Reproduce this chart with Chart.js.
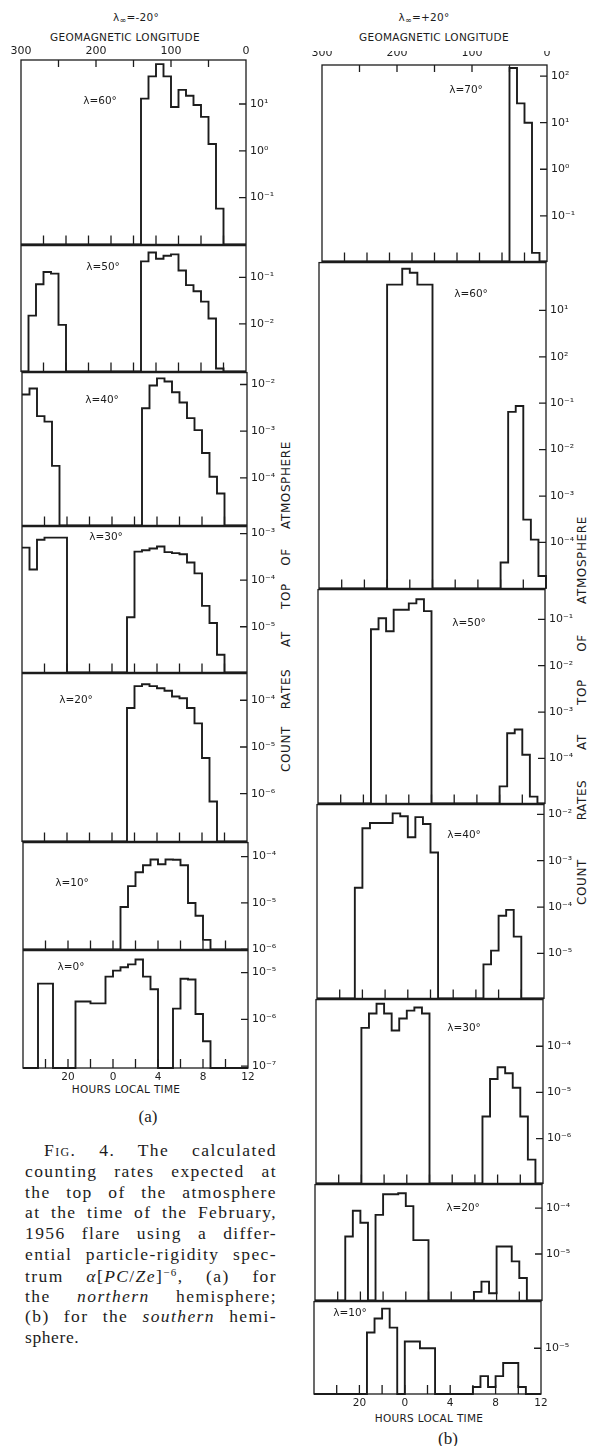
<!DOCTYPE html>
<html>
<head>
<meta charset="utf-8">
<script src="https://cdn.jsdelivr.net/npm/chart.js@4.4.1/dist/chart.umd.min.js"></script>
<style>
  html, body { margin: 0; padding: 0; background: #fff; }
  #page { position: relative; width: 590px; height: 1446px; overflow: hidden; color: #1c1c1c; font-family: 'DejaVu Sans', sans-serif; }
  canvas { position: absolute; }
  .t { position: absolute; white-space: nowrap; transform: translate(-50%, -50%); }
  .hdr { font-size: 10.5px; letter-spacing: 0.3px; }
  .hdr sub { font-size: 8px; vertical-align: -2px; }
  .lam { font-size: 10.5px; }
  .vt { position: absolute; white-space: nowrap; font-size: 12px; letter-spacing: 0.6px; transform: translate(-50%, -50%) rotate(-90deg); }
  .cap { position: absolute; left: 25px; width: 252px; font-family: 'Liberation Serif', serif; font-size: 17.5px; line-height: 1;
         white-space: nowrap; text-align: justify; text-align-last: justify; transform: translateY(-50%); }
  .cap sup { font-size: 11px; vertical-align: 6px; }
  .par { position: absolute; font-family: 'Liberation Serif', serif; font-size: 17px; transform: translate(-50%, -50%); }
</style>
</head>
<body>
<div id="page">
  <div class="t hdr" style="left:136px;top:18px">λ<sub>∞</sub>=-20°</div>
  <div class="t hdr" style="left:125px;top:37px">GEOMAGNETIC LONGITUDE</div>
  <div class="t hdr" style="left:424px;top:18px">λ<sub>∞</sub>=+20°</div>
  <div class="t hdr" style="left:434px;top:37px">GEOMAGNETIC LONGITUDE</div>

  <div class="t hdr" style="left:126px;top:1089px">HOURS LOCAL TIME</div>
  <div class="t hdr" style="left:429px;top:1418px">HOURS LOCAL TIME</div>
  <div class="par" style="left:148px;top:1117px">(a)</div>
  <div class="par" style="left:448px;top:1439px">(b)</div>

  <div class="vt" style="left:286px;top:749px">COUNT</div>
  <div class="vt" style="left:286px;top:689px">RATES</div>
  <div class="vt" style="left:286px;top:639px">AT</div>
  <div class="vt" style="left:286px;top:596px">TOP</div>
  <div class="vt" style="left:286px;top:557px">OF</div>
  <div class="vt" style="left:286px;top:485px">ATMOSPHERE</div>
  <div class="vt" style="left:582px;top:882px">COUNT</div>
  <div class="vt" style="left:582px;top:800px">RATES</div>
  <div class="vt" style="left:582px;top:742px">AT</div>
  <div class="vt" style="left:582px;top:692px">TOP</div>
  <div class="vt" style="left:582px;top:643px">OF</div>
  <div class="vt" style="left:582px;top:560px">ATMOSPHERE</div>

  <div class="cap fit" style="top:1151px;left:44px;width:233px"><span><span style="font-variant:small-caps">Fig.</span> 4. The calculated</span></div>
  <div class="cap fit" style="top:1172px"><span>counting rates expected at</span></div>
  <div class="cap fit" style="top:1193px"><span>the top of the atmosphere</span></div>
  <div class="cap fit" style="top:1213px"><span>at the time of the February,</span></div>
  <div class="cap fit" style="top:1234px"><span>1956 flare using a differ-</span></div>
  <div class="cap fit" style="top:1255px"><span>ential particle-rigidity spec-</span></div>
  <div class="cap fit" style="top:1276px"><span>trum <i>α</i>[<i>PC</i>/<i>Ze</i>]<sup>−6</sup>, (a) for</span></div>
  <div class="cap fit" style="top:1297px"><span>the <i>northern</i> hemisphere;</span></div>
  <div class="cap fit" style="top:1317px"><span>(b) for the <i>southern</i> hemi-</span></div>
  <div class="cap" style="top:1338px;text-align-last:left"><span style="letter-spacing:0.6px">sphere.</span></div>
</div>

<script>
const _ = null;

// left edge (geomagnetic longitude, deg) of each 10 deg bin
const binLon = [300, 290, 280, 270, 260, 250, 240, 230, 220, 210,
                200, 190, 180, 170, 160, 150, 140, 130, 120, 110,
                100,  90,  80,  70,  60,  50,  40,  30,  20,  10];

// (a) northern hemisphere, lambda_inf = -20 deg
const rateN60 = [_, _, _, _, _, _, _, _, _, _,
                 _, _, _, _, _, _, 1.3e1, 3.9e1, 7.1e1, 3.9e1,
                 8.6, 2.0e1, 1.5e1, 9.5, 5.3, 1.4, 5.8e-2, _, _, _];
const rateN50 = [_, 1.5e-2, 7.1e-2, 1.3e-1, 1.2e-1, 9.5e-3, _, _, _, _,
                 _, _, _, _, _, _, 2.2e-1, 3.4e-1, 2.5e-1, 2.9e-1,
                 3.1e-1, 1.4e-1, 6.8e-2, 5.0e-2, 3.0e-2, 1.3e-2, 1.1e-3, _, _, _];
const rateN40 = [6.1e-3, 8.2e-3, 2.1e-3, 1.6e-3, 1.8e-4, _, _, _, _, _,
                 _, _, _, _, _, _, 3.1e-3, 9.5e-3, 1.35e-2, 1.16e-2,
                 6.8e-3, 4.1e-3, 1.9e-3, 1.05e-3, 3.4e-4, 1.05e-4, 4.6e-5, _, _, _];
const rateN30 = [5.0e-4, 1.7e-4, 7.4e-4, 8.2e-4, 8.2e-4, 8.2e-4, _, _, _, _,
                 _, _, _, _, 1.6e-5, 4.1e-4, 4.4e-4, 4.8e-4, 5.3e-4, 4.0e-4,
                 3.8e-4, 3.6e-4, 2.4e-4, 1.4e-4, 2.8e-5, 1.2e-5, 2.5e-6, _, _, _];
const rateN20 = [_, _, _, _, _, _, _, _, _, _,
                 _, _, _, _, 6.8e-5, 2.0e-4, 2.2e-4, 2.0e-4, 1.8e-4, 1.6e-4,
                 1.2e-4, 1.1e-4, 6.8e-5, 3.2e-5, 5.8e-6, 6.8e-7, _, _, _, _];
const rateN10 = [_, _, _, _, _, _, _, _, _, _,
                 _, _, _, 8.2e-6, 2.3e-5, 4.6e-5, 6.5e-5, 8.6e-5, 6.8e-5, 8.6e-5,
                 8.5e-5, 6.5e-5, 1.0e-5, 5.3e-6, 1.6e-6, _, _, _, _, _];
const rateN0  = [_, _, 5.8e-6, 5.8e-6, _, _, _, 2.4e-6, 2.4e-6, 2.2e-6,
                 2.2e-6, 8.2e-6, 1.1e-5, 1.3e-5, 1.5e-5, 1.9e-5, 8.2e-6, 4.4e-6, _, _,
                 1.7e-6, 7.4e-6, 7.1e-6, 1.3e-6, 3.4e-7, _, _, _, _, _];

// (b) southern hemisphere, lambda_inf = +20 deg
const rateS70 = [_, _, _, _, _, _, _, _, _, _,
                 _, _, _, _, _, _, _, _, _, _,
                 _, _, _, _, _, 1.5e2, 2.6e1, 1.0e1, 1.6e-2, _];
const rateS60 = [_, _, _, _, _, _, _, _, _, 3.6e1,
                 3.6e1, 7.9e1, 6.5e1, 3.6e1, 3.6e1, _, _, _, _, _,
                 _, _, _, _, 3.7e-5, 6.5e-2, 8.7e-2, 3.1e-4, 1.15e-4, 1.9e-5];
const rateS50 = [_, _, _, _, _, _, _, 6.1e-2, 1.05e-1, 5.5e-2,
                 1.6e-1, 1.6e-1, 2.2e-1, 2.7e-1, 1.5e-1, _, _, _, _, _,
                 _, _, _, _, 2.5e-5, 3.5e-4, 4.2e-4, 1.2e-4, 1.5e-5, _];
const rateS40 = [_, _, _, _, _, 2.6e-4, 5.0e-3, 6.5e-3, 6.5e-3, 6.5e-3,
                 1.05e-2, 9.1e-3, 3.2e-3, 8.7e-3, 6.2e-3, 1.5e-3, _, _, _, _,
                 _, _, 5.8e-6, 1.15e-5, 6.5e-5, 8.7e-5, 2.3e-5, _, _, _];
const rateS30 = [_, _, _, _, _, _, 2.5e-4, 5.1e-4, 8.3e-4, 5.1e-4,
                 2.2e-4, 4.0e-4, 5.9e-4, 6.9e-4, 5.1e-4, _, _, _, _, _,
                 _, _, 3.0e-6, 1.95e-5, 3.5e-5, 2.6e-5, 1.26e-5, 3.0e-6, 3.5e-7, _];
const rateS20 = [_, _, _, _, 2.4e-5, 8.7e-5, 4.8e-5, _, 7.1e-5, 2.0e-4,
                 2.0e-4, 2.1e-4, 1.1e-4, 2.0e-5, 2.0e-5, _, _, _, _, _,
                 _, 1.5e-6, 2.5e-6, 1.4e-6, 1.45e-5, 1.45e-5, 6.9e-6, 3.0e-6, _, _];
const rateS10 = [_, _, _, _, _, _, _, 2.2e-5, 4.4e-5, 7.2e-5,
                 2.8e-5, _, 1.4e-5, 1.4e-5, 1.0e-5, 1.0e-5, _, _, _, _,
                 _, 1.45e-6, 2.5e-6, 1.45e-6, 2.5e-6, 4.8e-6, 4.8e-6, 1.45e-6, _, _];

// labelled decades (exponents) on the right of each panel
const decN60 = [1, 0, -1];
const decN50 = [-1, -2];
const decN40 = [-2, -3, -4];
const decN30 = [-3, -4, -5];
const decN20 = [-4, -5, -6];
const decN10 = [-4, -5, -6];
const decN0  = [-5, -6, -7];
const decS70 = [2, 1, 0, -1];
const decS60 = [1, 0, -1, -2, -3, -4];
const decTextS60 = ['10¹', '10²', '10⁻¹', '10⁻²', '10⁻³', '10⁻⁴']; // the original prints 10² at 10⁰
const decS50 = [-1, -2, -3, -4];
const decS40 = [-2, -3, -4, -5];
const decS30 = [-4, -5, -6];
const decS20 = [-4, -5];
const decS10 = [-5];

// x axis labels
const lonTickVals = [300, 200, 100, 0];
const hourTickLon = [240, 180, 120, 60, 0];
const hourTickText = ['20', '0', '4', '8', '12'];
const hourMarks = [270, 240, 210, 180, 150, 120, 90, 60, 30];
const lonMarks = [250, 200, 150, 100, 50];

const ink = '#1c1c1c';
Chart.defaults.font.family = 'DejaVu Sans';

// frame geometry and log range (exponents) of each panel
const panels = [
  { vals: rateN60, dec: decN60, lo: -2.0,  hi: 1.94,  x: 21,  y: 60,   w: 225, h: 185, lam: 'λ=60°', lx: 100, ly: 100, top: true },
  { vals: rateN50, dec: decN50, lo: -3.02, hi: -0.32, x: 21,  y: 245,  w: 225, h: 127, lam: 'λ=50°', lx: 103, ly: 266 },
  { vals: rateN40, dec: decN40, lo: -5.02, hi: -1.745,x: 22,  y: 372,  w: 225, h: 154, lam: 'λ=40°', lx: 102, ly: 399 },
  { vals: rateN30, dec: decN30, lo: -5.98, hi: -2.85, x: 22,  y: 526,  w: 225, h: 147, lam: 'λ=30°', lx: 106, ly: 536 },
  { vals: rateN20, dec: decN20, lo: -7.02, hi: -3.43, x: 22,  y: 673,  w: 225, h: 169, lam: 'λ=20°', lx: 76,  ly: 699 },
  { vals: rateN10, dec: decN10, lo: -6.0,  hi: -3.70, x: 23,  y: 842,  w: 225, h: 108, lam: 'λ=10°', lx: 72,  ly: 882 },
  { vals: rateN0,  dec: decN0,  lo: -7.04, hi: -4.53, x: 23,  y: 950,  w: 225, h: 118, lam: 'λ=0°',  lx: 71,  ly: 966, bottom: true },
  { vals: rateS70, dec: decS70, lo: -1.98, hi: 2.24,  x: 320, y: 65,   w: 227, h: 197, lam: 'λ=70°', lx: 466, ly: 89, top: true },
  { vals: rateS60, dec: decS60, lo: -4.99, hi: 2.03,  x: 319, y: 262,  w: 227, h: 327, lam: 'λ=60°', lx: 471, ly: 293, text: decTextS60 },
  { vals: rateS50, dec: decS50, lo: -4.97, hi: -0.36, x: 318, y: 589,  w: 227, h: 215, lam: 'λ=50°', lx: 469, ly: 622 },
  { vals: rateS40, dec: decS40, lo: -5.97, hi: -1.79, x: 317, y: 804,  w: 227, h: 195, lam: 'λ=40°', lx: 464, ly: 834 },
  { vals: rateS30, dec: decS30, lo: -6.97, hi: -2.99, x: 316, y: 999,  w: 227, h: 185, lam: 'λ=30°', lx: 464, ly: 1027 },
  { vals: rateS20, dec: decS20, lo: -6.01, hi: -3.49, x: 315, y: 1184, w: 227, h: 117, lam: 'λ=20°', lx: 463, ly: 1207 },
  { vals: rateS10, dec: decS10, lo: -5.99, hi: -3.99, x: 314, y: 1301, w: 227, h: 93,  lam: 'λ=10°', lx: 350, ly: 1312, bottom: true },
];

const supMap = { '-': '⁻', '0': '⁰', '1': '¹', '2': '²', '3': '³', '4': '⁴', '5': '⁵', '6': '⁶', '7': '⁷', '8': '⁸', '9': '⁹' };
const sup = e => String(e).split('').map(c => supMap[c]).join('');

// box round each panel, inward ticks on the right and along the bottom (and top)
const frameTicks = {
  id: 'frameTicks',
  afterDatasetsDraw(chart, args, o) {
    const { ctx, chartArea: a } = chart;
    const xs = chart.scales.x, ys = chart.scales.y;
    ctx.save();
    ctx.strokeStyle = ink;
    ctx.lineWidth = 1.3;
    ctx.strokeRect(a.left, a.top, a.right - a.left, a.bottom - a.top);
    ctx.beginPath();
    ys.ticks.forEach(t => {
      const py = ys.getPixelForValue(t.value);
      ctx.moveTo(a.right - 7, py); ctx.lineTo(a.right, py);
    });
    hourMarks.forEach(L => {
      const px = xs.getPixelForValue(L);
      ctx.moveTo(px, a.bottom); ctx.lineTo(px, a.bottom - 9);
    });
    if (o.top) lonMarks.forEach(L => {
      const px = xs.getPixelForValue(L);
      ctx.moveTo(px, a.top); ctx.lineTo(px, a.top + 7);
    });
    ctx.stroke();
    ctx.restore();
  }
};

const page = document.getElementById('page');

panels.forEach(p => {
  const padL = 14, padT = 10, padB = 10, axisW = 40;
  const topH = p.top ? 14 : 0, botH = p.bottom ? 18 : 0;
  const cv = document.createElement('canvas');
  cv.width = padL + p.w + axisW;
  cv.height = padT + topH + p.h + botH + padB;
  cv.style.left = (p.x - padL) + 'px';
  cv.style.top = (p.y - padT - topH) + 'px';
  page.appendChild(cv);

  const lab = document.createElement('div');
  lab.className = 't lam';
  lab.style.left = p.lx + 'px';
  lab.style.top = p.ly + 'px';
  lab.textContent = p.lam;
  page.appendChild(lab);

  const floor = Math.pow(10, p.lo);
  const pts = p.vals.map((v, i) => ({ x: binLon[i], y: v == null ? floor : v }));
  pts.push({ x: 0, y: floor });

  const showX = !!(p.top || p.bottom);
  new Chart(cv, {
    type: 'line',
    data: {
      datasets: [{
        data: pts, stepped: 'before', borderColor: ink, borderWidth: 1.9,
        pointRadius: 0, fill: false, tension: 0, clip: 2
      }]
    },
    options: {
      responsive: false, animation: false, events: [],
      layout: { padding: { left: padL, top: padT, bottom: padB, right: 0 } },
      plugins: { legend: { display: false }, tooltip: { enabled: false }, frameTicks: { top: !!p.top } },
      scales: {
        x: {
          type: 'linear', min: 0, max: 300, reverse: true,
          display: showX, position: p.top ? 'top' : 'bottom',
          grid: { display: false, drawTicks: false }, border: { display: false },
          afterBuildTicks: s => { s.ticks = (p.top ? lonTickVals : hourTickLon).map(v => ({ value: v })); },
          afterFit: s => { if (showX) s.height = p.top ? topH : botH; },
          ticks: {
            autoSkip: false, maxRotation: 0, color: ink,
            padding: p.top ? (p.x > 200 ? 5.5 : 2.5) : 2.5,
            font: { size: p.top ? 11 : 10.5 },
            callback: (v, i) => p.top ? String(lonTickVals[i]) : hourTickText[i]
          }
        },
        y: {
          type: 'logarithmic', position: 'right',
          min: Math.pow(10, p.lo), max: Math.pow(10, p.hi),
          grid: { display: false, drawTicks: false }, border: { display: false },
          afterBuildTicks: s => { s.ticks = p.dec.map(e => ({ value: Math.pow(10, e) })); },
          afterFit: s => { s.width = axisW; },
          ticks: {
            autoSkip: false, padding: 4, color: ink, font: { size: 11 },
            callback: (v, i) => p.text ? p.text[i] : '10' + sup(p.dec[i])
          }
        }
      }
    },
    plugins: [frameTicks]
  });
});

// spread the caption letters a little so justified lines do not open wide gaps
document.querySelectorAll('.cap.fit').forEach(el => {
  const span = el.firstElementChild;
  el.style.textAlignLast = 'left';
  el.style.textAlign = 'left';
  const natural = span.getBoundingClientRect().width;
  const room = el.clientWidth - natural;
  const n = el.textContent.length;
  if (room > 0) span.style.letterSpacing = Math.min(1.4, room / n) + 'px';
  el.style.textAlign = '';
  el.style.textAlignLast = '';
});
</script>
</body>
</html>
